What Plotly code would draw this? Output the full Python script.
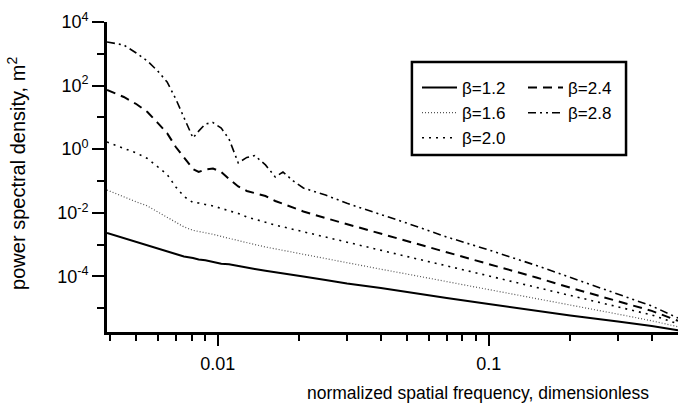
import math
import plotly.graph_objects as go

# ---------------- data ----------------
freq = [0.0039, 0.0045, 0.005, 0.0055, 0.006, 0.0065, 0.007, 0.0075, 0.0081,
        0.0085, 0.009, 0.0096, 0.0103, 0.011, 0.0119, 0.0128, 0.0137, 0.015,
        0.0163, 0.0174, 0.019, 0.0207, 0.025, 0.03, 0.04, 0.05, 0.07, 0.1,
        0.15, 0.2, 0.3, 0.4, 0.5]

psd_b12 = [2.3e-3, 1.6e-3, 1.2e-3, 9.4e-4, 7.5e-4, 6.1e-4, 5.1e-4, 4.2e-4, 3.8e-4,
           3.4e-4, 3.2e-4, 2.8e-4, 2.5e-4, 2.4e-4, 2.1e-4, 1.9e-4, 1.7e-4, 1.5e-4,
           1.33e-4, 1.23e-4, 1.11e-4, 9.9e-5, 7.7e-5, 6.0e-5, 4.3e-5, 3.2e-5, 2.1e-5,
           1.36e-5, 8.2e-6, 5.9e-6, 3.8e-6, 2.75e-6, 2.0e-6]

psd_b16 = [5.2e-2, 3.1e-2, 2.2e-2, 1.64e-2, 1.06e-2, 7.4e-3, 4.8e-3, 3.6e-3, 2.8e-3,
           2.6e-3, 2.3e-3, 2.1e-3, 1.8e-3, 1.56e-3, 1.30e-3, 1.12e-3, 1.0e-3, 8.4e-4,
           7.3e-4, 6.5e-4, 5.6e-4, 4.9e-4, 3.6e-4, 2.7e-4, 1.68e-4, 1.18e-4, 6.9e-5,
           3.9e-5, 2.0e-5, 1.29e-5, 6.5e-6, 4.0e-6, 2.6e-6]

psd_b20 = [1.68, 1.09, 0.76, 0.51, 0.286, 0.16, 0.065, 0.0326, 0.021,
           0.0203, 0.0182, 0.0164, 0.0137, 0.0118, 9.5e-3, 7.4e-3, 6.2e-3, 5.0e-3,
           4.1e-3, 3.6e-3, 3.0e-3, 2.5e-3, 1.67e-3, 1.16e-3, 6.6e-4, 4.2e-4, 2.14e-4,
           1.04e-4, 4.6e-5, 2.5e-5, 1.1e-5, 6.1e-6, 3.2e-6]

psd_b24 = [72.8, 43.8, 26.4, 14.8, 6.7, 3.2, 1.17, 0.53, 0.238,
           0.192, 0.23, 0.247, 0.192, 0.116, 0.067, 0.0485, 0.042, 0.0337,
           0.0235, 0.0189, 0.0147, 0.011, 6.8e-3, 4.4e-3, 2.2e-3, 1.29e-3, 5.7e-4,
           2.4e-4, 9.2e-5, 4.4e-5, 1.6e-5, 8.2e-6, 4.0e-6]

psd_b28 = [2350, 1890, 1060, 594, 288, 130, 37.9, 10.3, 2.25,
           3.7, 6.2, 6.9, 4.6, 2.1, 0.37, 0.55, 0.63, 0.32,
           0.134, 0.192, 0.1, 0.060, 0.036, 0.0198, 8.9e-3, 4.7e-3, 1.73e-3,
           6.8e-4, 2.2e-4, 9.2e-5, 2.8e-5, 1.17e-5, 4.9e-6]

series_names = ["β=1.2", "β=1.6", "β=2.0", "β=2.4", "β=2.8"]
series_values = [psd_b12, psd_b16, psd_b20, psd_b24, psd_b28]

y_major_vals = [1e-4, 1e-2, 1e0, 1e2, 1e4]
y_major_text = ["10<sup>-4</sup>", "10<sup>-2</sup>", "10<sup>0</sup>",
                "10<sup>2</sup>", "10<sup>4</sup>"]
y_minor_vals = [1e-5, 1e-3, 1e-1, 1e1, 1e3]

x_major_vals = [0.01, 0.1]
x_major_text = ["0.01", "0.1"]
x_minor_vals = [0.004, 0.005, 0.006, 0.007, 0.008, 0.009,
                0.02, 0.03, 0.04, 0.05, 0.06, 0.07, 0.08, 0.09,
                0.2, 0.3, 0.4]

x_title = "normalized spatial frequency, dimensionless"
y_title = "power spectral density, m<sup>2</sup>"

# ---------------- styling ----------------
FONT = "Liberation Sans, Arial, Helvetica, sans-serif"
line_styles = [
    dict(color="black", width=2.0, dash="solid"),
    dict(color="#555555", width=1.2, dash="1px,2px"),
    dict(color="black", width=1.6, dash="2px,5px"),
    dict(color="black", width=2.0, dash="9px,6px"),
    dict(color="black", width=1.6, dash="8px,4px,2px,4px,2px,4px"),
]
legend_ids = ["legend", "legend", "legend", "legend2", "legend2"]

fig = go.Figure()
for name, vals, ls, lg in zip(series_names, series_values, line_styles, legend_ids):
    fig.add_trace(go.Scatter(x=freq, y=vals, mode="lines", name=name,
                             line=ls, legend=lg))

axis_common = dict(showline=True, linewidth=2.7, linecolor="black",
                   ticks="outside", tickwidth=2, tickcolor="black",
                   showgrid=False, zeroline=False,
                   tickfont=dict(family=FONT, size=18, color="black"))

fig.update_layout(
    width=679, height=409,
    margin=dict(l=107, r=1, t=22, b=77),
    paper_bgcolor="white", plot_bgcolor="white",
    font=dict(family=FONT, color="black"),
    xaxis=dict(type="log", range=[math.log10(0.0039), math.log10(0.5)],
               tickmode="array", tickvals=x_major_vals, ticktext=x_major_text,
               ticklen=11, ticklabelstandoff=3,
               minor=dict(tickmode="array", tickvals=x_minor_vals, ticks="outside",
                          ticklen=6, tickwidth=2, tickcolor="black", showgrid=False),
               **axis_common),
    yaxis=dict(type="log", range=[-5.75, 4.0],
               tickmode="array", tickvals=y_major_vals, ticktext=y_major_text,
               ticklen=12,
               minor=dict(tickmode="array", tickvals=y_minor_vals, ticks="outside",
                          ticklen=7, tickwidth=2, tickcolor="black", showgrid=False),
               **axis_common),
    legend=dict(x=(417 - 107) / 571, y=0.845, xanchor="left", yanchor="top",
                bgcolor="rgba(0,0,0,0)", borderwidth=0, itemwidth=35,
                font=dict(family=FONT, size=17, color="black")),
    legend2=dict(x=(523 - 107) / 571, y=0.845, xanchor="left", yanchor="top",
                 bgcolor="rgba(0,0,0,0)", borderwidth=0, itemwidth=35,
                 font=dict(family=FONT, size=17, color="black")),
    showlegend=True,
)

# legend frame
fig.add_shape(type="rect", xref="paper", yref="paper",
              x0=0.534, x1=0.909, y0=0.571, y1=0.871,
              line=dict(color="black", width=2.5), fillcolor="white", layer="below")

# axis titles
fig.add_annotation(text=x_title, xref="paper", yref="paper",
                   x=(478 - 107) / 571, y=-0.197, xanchor="center", yanchor="middle",
                   showarrow=False, font=dict(family=FONT, size=17.5, color="black"))
fig.add_annotation(text=y_title, xref="paper", yref="paper",
                   x=(17 - 107) / 571, y=0.51, xanchor="center", yanchor="middle",
                   textangle=-90, showarrow=False,
                   font=dict(family=FONT, size=20, color="black"))

fig.write_html("out.html")
